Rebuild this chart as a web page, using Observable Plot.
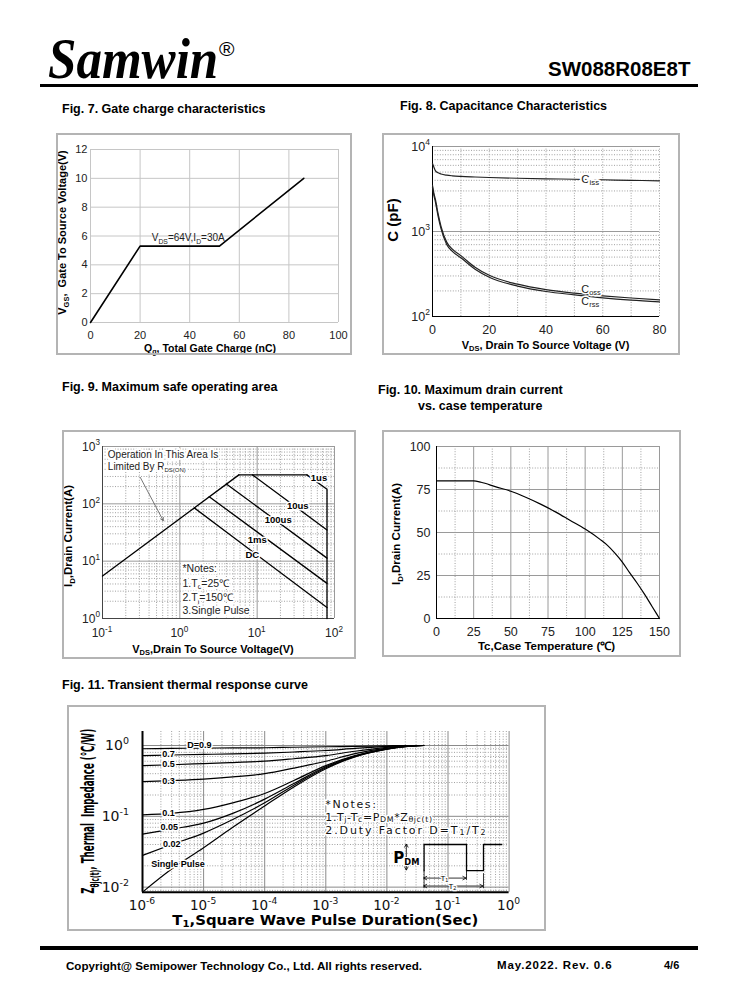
<!DOCTYPE html>
<html><head><meta charset="utf-8">
<script src="https://cdn.jsdelivr.net/npm/d3@7"></script>
<script src="https://cdn.jsdelivr.net/npm/@observablehq/plot@0.6"></script>
<style>
html,body{margin:0;padding:0;background:#fff;}
#page{position:relative;width:738px;height:1000px;overflow:hidden;background:#fff;font-family:'Liberation Sans',Arial,sans-serif;color:#000;}
</style></head>
<body><div id="page"></div>
<script>
// ================= DATA =================
// Fig 7 gate charge
const gcCharge = [0, 20, 52, 86];
const gcVoltage = [0, 5.3, 5.3, 10];
const gcTicksX = [0, 20, 40, 60, 80, 100];
const gcTicksY = [0, 2, 4, 6, 8, 10, 12];
// Fig 8 capacitance
const capVds  = [0, 0.5, 1, 2, 3, 5, 7, 10, 15, 20, 30, 40, 50, 60, 70, 80];
const capCiss = [6300, 5700, 5200, 4900, 4750, 4600, 4520, 4450, 4380, 4320, 4230, 4170, 4120, 4060, 4000, 3950];
const capCoss = [3500, 2800, 2400, 1600, 1150, 750, 620, 520, 380, 305, 240, 207, 188, 175, 165, 157];
const capCrss = [3300, 2650, 2250, 1500, 1080, 705, 585, 490, 360, 290, 228, 197, 180, 166, 156, 149];
const capTicksX = [0, 20, 40, 60, 80];
const capTicksY = [100, 1000, 10000];
// Fig 9 SOA
const soaRdsV = [0.1, 5.8],  soaRdsI = [5.5, 320];
const soaTopV = [5.8, 44],   soaTopI = [320, 320];
const soa1usV = [44, 80, 80], soa1usI = [320, 180, 1];
const soa10usV = [8.7, 80],  soa10usI = [320, 35];
const soa100usV = [4.0, 80], soa100usI = [222, 11.3];
const soa1msV = [2.4, 80],   soa1msI = [133, 4.1];
const soaDcV = [1.54, 80],   soaDcI = [85, 1.55];
const soaLabelText = ["1us", "10us", "100us", "1ms", "DC"];
const soaLabelV = [64, 34, 19, 10.2, 8.8];
const soaLabelI = [277, 92, 51, 23, 12.6];
const soaArrowV = [0.308, 0.61], soaArrowI = [289, 51];
const soaTicksX = [0.1, 1, 10, 100];
const soaTicksY = [1, 10, 100, 1000];
// Fig 10 drain current vs case temperature
const tcTemp    = [0, 25, 30, 40, 50, 60, 70, 80, 90, 100, 110, 115, 120, 125, 130, 135, 140, 145, 150];
const tcCurrent = [80, 80, 79.2, 76.5, 74, 70.5, 66.5, 62, 57, 52, 46, 42.5, 38, 32.8, 26.5, 20.5, 14, 7, 0];
const tcTicksX = [0, 25, 50, 75, 100, 125, 150];
const tcTicksY = [0, 25, 50, 75, 100];
// Fig 11 transient thermal impedance
const ztTime   = [1e-6, 3e-6, 1e-5, 3e-5, 1e-4, 3e-4, 1e-3, 3e-3, 1e-2, 2e-2, 4e-2];
const ztD09    = [0.9, 0.91, 0.92, 0.925, 0.93, 0.945, 0.96, 0.975, 0.99, 1.0, 1.0];
const ztD07    = [0.72, 0.735, 0.75, 0.76, 0.78, 0.81, 0.85, 0.91, 0.97, 1.0, 1.0];
const ztD05    = [0.52, 0.535, 0.555, 0.575, 0.6, 0.65, 0.72, 0.83, 0.94, 0.99, 1.0];
const ztD03    = [0.31, 0.32, 0.335, 0.36, 0.4, 0.48, 0.6, 0.77, 0.92, 0.98, 1.0];
const ztD01    = [0.105, 0.11, 0.125, 0.155, 0.21, 0.32, 0.52, 0.72, 0.9, 0.97, 1.0];
const ztD005   = [0.056, 0.066, 0.08, 0.11, 0.175, 0.29, 0.5, 0.71, 0.895, 0.97, 1.0];
const ztD002   = [0.028, 0.04, 0.058, 0.09, 0.155, 0.275, 0.485, 0.7, 0.89, 0.965, 1.0];
const ztSingle = [0.0085, 0.018, 0.036, 0.07, 0.14, 0.26, 0.47, 0.69, 0.885, 0.96, 1.0];
const ztLabelText = ["D=0.9", "0.7", "0.5", "0.3", "0.1", "0.05", "0.02", "Single Pulse"];
const ztLabelT = [5.5e-6, 2.15e-6, 2.15e-6, 2.15e-6, 2.15e-6, 2e-6, 2.2e-6, 1.42e-6];
const ztLabelZ = [1.0, 0.746, 0.54, 0.31, 0.11, 0.0695, 0.04, 0.021];
const pulseT = [0.0406, 0.0406, 0.201, 0.201, 0.381, 0.381, 0.759];
const pulseZ = [0.0171, 0.04, 0.04, 0.0171, 0.0171, 0.04, 0.04];
const ztTicksX = [1e-6, 1e-5, 1e-4, 1e-3, 1e-2, 1e-1, 1];
const ztTicksY = [0.01, 0.1, 1];
const ztDomainY = [0.00848, 1.577];

// ================= HELPERS =================
const SANS = "'Liberation Sans', Arial, Helvetica, sans-serif";
const DJ = "'DejaVu Sans', Verdana, sans-serif";
const NARROW = "'Liberation Sans Narrow', 'DejaVu Sans Condensed', 'Liberation Sans', sans-serif";
const page = document.getElementById("page");
function div(left, top, html, css) {
  const d = document.createElement("div");
  d.innerHTML = html;
  d.style.cssText = `position:absolute;left:${left}px;top:${top}px;white-space:nowrap;line-height:1;` + (css || "");
  page.appendChild(d); return d;
}
function box(left, top, w, h, css) { return div(left, top, "", `width:${w}px;height:${h}px;box-sizing:border-box;` + css); }
function mount(svg, left, top, w, h) {
  svg.style.position = "absolute"; svg.style.left = left + "px"; svg.style.top = top + "px";
  page.appendChild(svg);
  box(left, top, w, h, "border:2px solid #b4b4b4;pointer-events:none;");
}
const st = (fs, fam) => ({background: "transparent", fontFamily: fam || SANS, fontSize: fs + "px", color: "#222", overflow: "visible"});
function rich(svg, x, y, parts, o = {}) {
  const NS = "http://www.w3.org/2000/svg";
  const size = o.size || 11;
  const t = document.createElementNS(NS, "text");
  const a = {x, y, "font-size": size, "font-family": o.family || SANS, "font-weight": o.weight || "normal",
    "text-anchor": o.anchor || "start", fill: o.fill || "#000"};
  if (o.rotate) a.transform = `rotate(${o.rotate} ${x} ${y})`;
  if (o.halo) Object.assign(a, {stroke: "#fff", "stroke-width": o.halo, "paint-order": "stroke", "stroke-linejoin": "round"});
  if (o.len) Object.assign(a, {textLength: o.len, lengthAdjust: "spacingAndGlyphs"});
  if (o.spacing) a["letter-spacing"] = o.spacing;
  for (const k in a) t.setAttribute(k, a[k]);
  let shift = 0;
  const subShift = o.subShift || 0.28;
  for (const [s, k] of parts) {
    const ts = document.createElementNS(NS, "tspan");
    const target = k === "sub" ? size * subShift : k === "sup" ? -size * 0.42 : 0;
    if (target - shift) ts.setAttribute("dy", target - shift);
    shift = target;
    if (k) ts.setAttribute("font-size", size * (o.subScale || 0.68));
    ts.textContent = s;
    t.appendChild(ts);
  }
  svg.appendChild(t); return t;
}
function logMinors(lo, hi) { const out = []; for (let e = lo; e < hi; e++) for (let k = 2; k <= 9; k++) out.push(+(k * Math.pow(10, e)).toPrecision(6)); return out; }
const GRID = "#9a9a9a", DOT = {stroke: "#a0a0a0", strokeDasharray: "1,1.6"};
const pts = (xs, ys) => xs.map((x, i) => ({x, y: ys[i]}));

// ================= PAGE HEADER / FOOTER =================
div(48, 30, "Samwin", `font-family:'Liberation Serif','Times New Roman',serif;font-weight:bold;font-style:italic;font-size:58px;transform:scaleX(0.88);transform-origin:left top;`);
div(219, 38, "®", `font-family:${SANS};font-size:21px;`);
div(548, 59, "SW088R08E8T", `font-family:${SANS};font-weight:bold;font-size:20.5px;`);
box(40, 84, 658, 3, "background:#000;");
box(40, 946, 658, 4, "background:#000;");
div(66, 959.5, "Copyright@ Semipower Technology Co., Ltd. All rights reserved.", `font-family:${SANS};font-weight:bold;font-size:11.6px;`);
div(497, 960, "May.2022. Rev. 0.6", `font-family:${SANS};font-weight:bold;font-size:11.5px;letter-spacing:0.9px;`);
div(664, 960, "4/6", `font-family:${SANS};font-weight:bold;font-size:11px;`);
// titles
const TT = `font-family:${SANS};font-weight:bold;font-size:12.5px;`;
div(62, 102.5, "Fig. 7. Gate charge characteristics", TT);
div(400, 99.8, "Fig. 8. Capacitance Characteristics", TT);
div(62, 380.8, "Fig. 9. Maximum safe operating area", TT);
div(378, 383.8, "Fig. 10. Maximum drain current", TT);
div(418, 399.8, "vs. case temperature", TT);
div(62, 678.8, "Fig. 11. Transient thermal response curve", TT);

// ================= FIG 7 =================
(function () {
  const L = 56, T = 133, W = 296, H = 222, m = {l: 34, r: 14, t: 16, b: 33};
  const p = Plot.plot({
    width: W, height: H, marginLeft: m.l, marginRight: m.r, marginTop: m.t, marginBottom: m.b, style: st(11),
    x: {domain: [0, 100]}, y: {domain: [0, 12]},
    marks: [
      Plot.ruleX(gcTicksX, {stroke: "#c6c6c6"}),
      Plot.ruleY(gcTicksY, {stroke: "#c6c6c6"}),
      Plot.axisX({ticks: gcTicksX, tickSize: 0, tickPadding: 8.5, label: null, fontSize: 11}),
      Plot.axisY({ticks: gcTicksY, tickSize: 0, tickPadding: 3, label: null, fontSize: 11}),
      Plot.line(pts(gcCharge, gcVoltage), {x: "x", y: "y", stroke: "#000", strokeWidth: 1.6})
    ]
  });
  const X = p.scale("x"), Y = p.scale("y");
  const cx = (m.l + W - m.r) / 2, cy = (m.t + H - m.b) / 2;
  rich(p, X.apply(24.9), Y.apply(5.62), [["V"], ["DS", "sub"], ["=64V,I"], ["D", "sub"], ["=30A"]], {size: 10, fill: "#222"});
  rich(p, 10, cy - 3, [["V"], ["GS", "sub"], [",  Gate To Source Voltage(V)"]], {size: 11, weight: "bold", anchor: "middle", rotate: -90});
  rich(p, cx - 4, H - 3.5, [["Q"], ["g", "sub"], [", Total Gate Charge (nC)"]], {size: 10.5, weight: "bold", anchor: "middle", subShift: 0.2});
  mount(p, L, T, W, H);
})();

// ================= FIG 8 =================
(function () {
  const L = 382, T = 133, W = 298, H = 222, m = {l: 50, r: 21, t: 13, b: 39};
  const p = Plot.plot({
    width: W, height: H, marginLeft: m.l, marginRight: m.r, marginTop: m.t, marginBottom: m.b, style: st(12.5),
    x: {domain: [0, 80]}, y: {type: "log", domain: [100, 10000], axis: null},
    marks: [
      Plot.ruleY(logMinors(2, 4), DOT),
      Plot.ruleX([10, 20, 30, 40, 50, 60, 70, 80], DOT),
      Plot.ruleY([1000, 10000], {stroke: GRID}),
      Plot.ruleX([0], {stroke: "#000"}),
      Plot.ruleY([100], {stroke: "#000"}),
      Plot.axisX({ticks: capTicksX, tickSize: 0, tickPadding: 9, label: null, fontSize: 12.5}),
      Plot.line(pts(capVds, capCiss), {x: "x", y: "y", stroke: "#222", strokeWidth: 1.2, curve: "monotone-x"}),
      Plot.line(pts(capVds, capCoss), {x: "x", y: "y", stroke: "#222", strokeWidth: 1.2, curve: "monotone-x"}),
      Plot.line(pts(capVds, capCrss), {x: "x", y: "y", stroke: "#222", strokeWidth: 1.2, curve: "monotone-x"})
    ]
  });
  const X = p.scale("x"), Y = p.scale("y");
  const cx = (m.l + W - m.r) / 2;
  capTicksY.forEach(t => rich(p, m.l - 2, Y.apply(t) + 4.5, [["10"], [String(Math.round(Math.log10(t))), "sup"]], {size: 12.5, anchor: "end", fill: "#222"}));
  rich(p, X.apply(52.6), Y.apply(4100) + 4, [["C"], ["iss", "sub"]], {size: 11.5, halo: 4, fill: "#222", subShift: 0.2});
  rich(p, X.apply(52.6), Y.apply(206) + 3.5, [["C"], ["oss", "sub"]], {size: 11, halo: 3, fill: "#222", subShift: 0.2});
  rich(p, X.apply(52.6), Y.apply(150) + 3.5, [["C"], ["rss", "sub"]], {size: 11, halo: 3, fill: "#222", subShift: 0.2});
  rich(p, cx, H - 6.5, [["V"], ["DS", "sub"], [", Drain To Source Voltage (V)"]], {size: 11, weight: "bold", anchor: "middle", subShift: 0.2});
  rich(p, 16, 87, [["C (pF)"]], {size: 15, weight: "bold", anchor: "middle", rotate: -90});
  mount(p, L, T, W, H);
})();

// ================= FIG 9 =================
(function () {
  const L = 62, T = 430, W = 294, H = 229, m = {l: 40, r: 22, t: 16, b: 41};
  const lines = [[soaRdsV, soaRdsI], [soaTopV, soaTopI], [soa1usV, soa1usI], [soa10usV, soa10usI], [soa100usV, soa100usI], [soa1msV, soa1msI], [soaDcV, soaDcI]];
  const p = Plot.plot({
    width: W, height: H, marginLeft: m.l, marginRight: m.r, marginTop: m.t, marginBottom: m.b, style: st(12),
    x: {type: "log", domain: [0.1, 100], axis: null}, y: {type: "log", domain: [1, 1000], axis: null},
    marks: [
      Plot.ruleX(logMinors(-1, 2), DOT),
      Plot.ruleY(logMinors(0, 3), DOT),
      Plot.ruleX(soaTicksX, {stroke: GRID}),
      Plot.ruleY(soaTicksY, {stroke: GRID}),
      Plot.ruleX([0.1], {stroke: "#444"}),
      Plot.ruleY([1], {stroke: "#444"}),
      ...lines.map(([v, i]) => Plot.line(pts(v, i), {x: "x", y: "y", stroke: "#000", strokeWidth: 1.3})),
      Plot.arrow([0], {x1: () => soaArrowV[0], y1: () => soaArrowI[0], x2: () => soaArrowV[1], y2: () => soaArrowI[1], stroke: "#555", strokeWidth: 0.8, headLength: 6})
    ]
  });
  const X = p.scale("x"), Y = p.scale("y");
  const cx = (m.l + W - m.r) / 2, cy = (m.t + H - m.b) / 2;
  soaTicksX.forEach(t => rich(p, X.apply(t), H - m.b + 19, [["10"], [String(Math.round(Math.log10(t))), "sup"]], {size: 12, anchor: "middle", fill: "#222"}));
  soaTicksY.forEach(t => rich(p, m.l - 2, Y.apply(t) + 4.5, [["10"], [String(Math.round(Math.log10(t))), "sup"]], {size: 12, anchor: "end", fill: "#222"}));
  soaLabelText.forEach((s, i) => rich(p, X.apply(soaLabelV[i]), Y.apply(soaLabelI[i]) + 3.3, [[s]], {size: 9.5, weight: "bold", anchor: "middle", halo: 3}));
  rich(p, X.apply(0.119), Y.apply(700) + 3.5, [["Operation In This Area Is"]], {size: 10, halo: 4, fill: "#222"});
  rich(p, X.apply(0.119), Y.apply(432) + 3.5, [["Limited By R"], ["DS(ON)", "sub"]], {size: 10, halo: 4, fill: "#222", subShift: 0.15, subScale: 0.6});
  rich(p, X.apply(1.1), Y.apply(7.46) + 4, [["*Notes:"]], {size: 10.5, halo: 4, fill: "#222"});
  rich(p, X.apply(1.1), Y.apply(4.08) + 4, [["1.T"], ["c", "sub"], ["=25℃"]], {size: 10.5, halo: 4, fill: "#222", subShift: 0.18});
  rich(p, X.apply(1.1), Y.apply(2.32) + 4, [["2.T"], ["j", "sub"], ["=150℃"]], {size: 10.5, halo: 4, fill: "#222", subShift: 0.18});
  rich(p, X.apply(1.1), Y.apply(1.38) + 4, [["3.Single Pulse"]], {size: 10.5, halo: 4, fill: "#222"});
  rich(p, cx - 5, H - 6, [["V"], ["DS", "sub"], [",Drain To Source Voltage(V)"]], {size: 11, weight: "bold", anchor: "middle", subShift: 0.2});
  rich(p, 10, cy + 4, [["I"], ["D", "sub"], [",Drain Current(A)"]], {size: 11.5, weight: "bold", anchor: "middle", rotate: -90});
  mount(p, L, T, W, H);
})();

// ================= FIG 10 =================
(function () {
  const L = 382, T = 430, W = 299, H = 227, m = {l: 54, r: 22, t: 16, b: 39};
  const minorsX = [12.5, 37.5, 62.5, 87.5, 112.5, 137.5], minorsY = [12.5, 37.5, 62.5, 87.5];
  const p = Plot.plot({
    width: W, height: H, marginLeft: m.l, marginRight: m.r, marginTop: m.t, marginBottom: m.b, style: st(12.5),
    x: {domain: [0, 150]}, y: {domain: [0, 100]},
    marks: [
      Plot.ruleX(minorsX, DOT),
      Plot.ruleY(minorsY, DOT),
      Plot.ruleX(tcTicksX, {stroke: GRID}),
      Plot.ruleY(tcTicksY, {stroke: GRID}),
      Plot.ruleX([0], {stroke: "#000"}),
      Plot.ruleY([0], {stroke: "#000"}),
      Plot.axisX({ticks: tcTicksX, tickSize: 0, tickPadding: 9, label: null, fontSize: 12.5}),
      Plot.axisY({ticks: tcTicksY, tickSize: 0, tickPadding: 6, label: null, fontSize: 12.5}),
      Plot.line(pts(tcTemp, tcCurrent), {x: "x", y: "y", stroke: "#000", strokeWidth: 1.2, curve: "monotone-x"})
    ]
  });
  const cx = (m.l + W - m.r) / 2, cy = (m.t + H - m.b) / 2;
  rich(p, cx - 1, H - 7.5, [["Tc,Case Temperature (℃)"]], {size: 11.5, weight: "bold", anchor: "middle"});
  rich(p, 18, cy + 2, [["I"], ["D", "sub"], [",Drain Current(A)"]], {size: 11.5, weight: "bold", anchor: "middle", rotate: -90});
  mount(p, L, T, W, H);
})();

// ================= FIG 11 =================
(function () {
  const L = 67, T = 705, W = 479, H = 226, m = {l: 75, r: 37.4, t: 26, b: 39.3};
  const series = [ztD09, ztD07, ztD05, ztD03, ztD01, ztD005, ztD002, ztSingle];
  const minY = logMinors(-3, 1).filter(v => v >= ztDomainY[0] && v <= ztDomainY[1]);
  const p = Plot.plot({
    width: W, height: H, marginLeft: m.l, marginRight: m.r, marginTop: m.t, marginBottom: m.b, style: st(14, DJ),
    x: {type: "log", domain: [1e-6, 1], axis: null}, y: {type: "log", domain: ztDomainY, axis: null},
    marks: [
      Plot.ruleX(logMinors(-6, 0), DOT),
      Plot.ruleY(minY, DOT),
      Plot.ruleX(ztTicksX, {stroke: "#8a8a8a"}),
      Plot.ruleY(ztTicksY, {stroke: "#8a8a8a"}),
      ...series.map(s => Plot.line(pts(ztTime, s), {x: "x", y: "y", stroke: "#000", strokeWidth: 1.2, curve: "monotone-x"})),
      Plot.ruleX([1e-6], {stroke: "#000", strokeWidth: 2}),
      Plot.ruleY([ztDomainY[0]], {stroke: "#000", strokeWidth: 2}),
      Plot.line(pts(pulseT, pulseZ), {x: "x", y: "y", stroke: "#000", strokeWidth: 1.3}),
      Plot.ruleX([pulseT[0]], {y1: 0.0095, y2: 0.0171, stroke: "#000", strokeWidth: 0.8}),
      Plot.ruleX([pulseT[2]], {y1: 0.0125, y2: 0.0171, stroke: "#000", strokeWidth: 0.8}),
      Plot.ruleX([pulseT[4]], {y1: 0.0095, y2: 0.0155, stroke: "#000", strokeWidth: 0.8})
    ]
  });
  const X = p.scale("x"), Y = p.scale("y");
  const cx = (m.l + W - m.r) / 2, cy = (m.t + H - m.b) / 2;
  ztTicksX.forEach(t => rich(p, X.apply(t), H - m.b + 18, [["10"], [String(Math.round(Math.log10(t))), "sup"]], {size: 13.5, family: DJ, anchor: "middle", fill: "#111"}));
  ztTicksY.forEach(t => rich(p, m.l - 13, Y.apply(t) + 5, [["10"], [String(Math.round(Math.log10(t))), "sup"]], {size: 14, family: DJ, anchor: "end", fill: "#111"}));
  ztLabelText.forEach((s, i) => rich(p, X.apply(ztLabelT[i]), Y.apply(ztLabelZ[i]) + 3.2, [[s]], {size: 9, weight: "bold", halo: 3}));
  // pulse diagram annotations
  const NS = "http://www.w3.org/2000/svg";
  const arrow = (x1, y1, x2, y2) => {
    const g = document.createElementNS(NS, "path");
    const ang = Math.atan2(y2 - y1, x2 - x1), h = 4;
    const d = `M${x1},${y1}L${x2},${y2}M${x2 - h * Math.cos(ang - 0.5)},${y2 - h * Math.sin(ang - 0.5)}L${x2},${y2}L${x2 - h * Math.cos(ang + 0.5)},${y2 - h * Math.sin(ang + 0.5)}`;
    g.setAttribute("d", d); g.setAttribute("stroke", "#000"); g.setAttribute("fill", "none"); g.setAttribute("stroke-width", 0.8);
    p.appendChild(g);
  };
  const xp = X.apply(0.0212), ym = Y.apply(0.026);
  arrow(xp, ym, xp, Y.apply(pulseZ[1])); arrow(xp, ym, xp, Y.apply(pulseZ[0]));
  const yT1 = Y.apply(0.0132), yT2 = Y.apply(0.0102);
  const xT1 = X.apply(0.089), xT2 = X.apply(0.12);
  arrow(xT1, yT1, X.apply(pulseT[0]), yT1); arrow(xT1, yT1, X.apply(pulseT[2]), yT1);
  arrow(xT2, yT2, X.apply(pulseT[0]), yT2); arrow(xT2, yT2, X.apply(pulseT[4]), yT2);
  rich(p, xT1, yT1 + 3, [["T"], ["1", "sub"]], {size: 8, anchor: "middle", halo: 2.5, subShift: 0.1});
  rich(p, xT2, yT2 + 3, [["T"], ["2", "sub"]], {size: 8, anchor: "middle", halo: 2.5, subShift: 0.1});
  rich(p, X.apply(0.013), Y.apply(0.0253) + 5, [["P"], ["DM", "sub"]], {size: 15, weight: "bold", family: DJ, halo: 2, subScale: 0.55, subShift: 0.15});
  // notes
  const NT = {size: 11, family: DJ, halo: 3, fill: "#111", subShift: 0.12, subScale: 0.72};
  rich(p, X.apply(1e-3), Y.apply(0.147) + 4, [["*Notes:"]], {...NT, spacing: 1.6});
  rich(p, X.apply(1e-3), Y.apply(0.096) + 4, [["1.T"], ["j", "sub"], ["-T"], ["c", "sub"], ["=P"], ["DM", "sub"], ["*Z"], ["θjc(t)", "sub"]], {...NT, spacing: 0.6});
  rich(p, X.apply(1e-3), Y.apply(0.063) + 4, [["2.Duty Factor D=T"], ["1", "sub"], ["/T"], ["2", "sub"]], {...NT, spacing: 1.9});
  // axis titles
  rich(p, cx, H - 6.5, [["T"], ["1", "sub"], [",Square Wave Pulse Duration(Sec)"]], {size: 14, weight: "bold", family: DJ, anchor: "middle", len: 306, subShift: 0.18});
  rich(p, 27, cy, [["Z"], ["θjc(t)", "sub"], [", Thermal  Impedance (℃/W)"]], {size: 18, weight: "bold", family: NARROW, anchor: "middle", rotate: -90, len: 165});
  mount(p, L, T, W, H);
})();
</script></body></html>
